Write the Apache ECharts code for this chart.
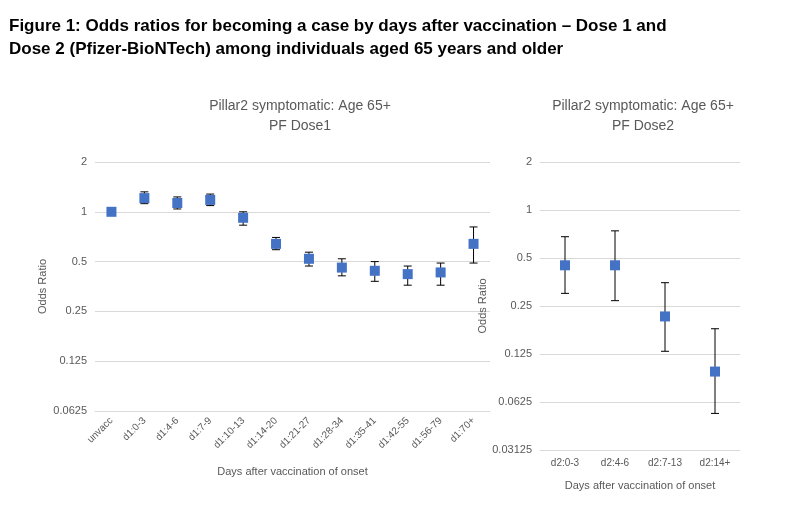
<!DOCTYPE html>
<html><head><meta charset="utf-8">
<script src="https://cdn.jsdelivr.net/npm/echarts@6/dist/echarts.min.js"></script>
<style>body{margin:0;background:#fff}#c{width:800px;height:507px}</style>
</head><body><div id="c"></div>
<script>
// dose 1 panel
var cats1 = ['unvacc','d1:0-3','d1:4-6','d1:7-9','d1:10-13','d1:14-20','d1:21-27','d1:28-34','d1:35-41','d1:42-55','d1:56-79','d1:70+'];
var or1 = [1, 1.21, 1.13, 1.18, 0.92, 0.64, 0.52, 0.46, 0.44, 0.42, 0.43, 0.64];
var lo1 = [1, 1.12, 1.04, 1.09, 0.83, 0.59, 0.47, 0.41, 0.38, 0.36, 0.36, 0.49];
var hi1 = [1, 1.32, 1.23, 1.28, 1.0, 0.70, 0.57, 0.52, 0.50, 0.47, 0.49, 0.81];
// dose 2 panel
var cats2 = ['d2:0-3','d2:4-6','d2:7-13','d2:14+'];
var or2 = [0.45, 0.45, 0.215, 0.097];
var lo2 = [0.30, 0.27, 0.13, 0.053];
var hi2 = [0.68, 0.74, 0.35, 0.18];

var grey = '#595959';
function errSeries(xi, yi, lo, hi) {
  return {
    type: 'custom', xAxisIndex: xi, yAxisIndex: yi, z: 1,
    data: lo.map(function (v, i) { return [i, v, hi[i]]; }),
    renderItem: function (params, api) {
      var a = api.coord([api.value(0), api.value(1)]);
      var b = api.coord([api.value(0), api.value(2)]);
      var w = 4, st = {stroke: '#000', lineWidth: 1};
      return {type: 'group', children: [
        {type: 'line', shape: {x1: a[0], y1: a[1], x2: b[0], y2: b[1]}, style: st},
        {type: 'line', shape: {x1: a[0]-w, y1: a[1], x2: a[0]+w, y2: a[1]}, style: st},
        {type: 'line', shape: {x1: b[0]-w, y1: b[1], x2: b[0]+w, y2: b[1]}, style: st}
      ]};
    }
  };
}
function yAx(gi, min) {
  return {
    type: 'log', logBase: 2, gridIndex: gi, min: min, max: 2,
    name: 'Odds Ratio', nameLocation: 'middle', nameGap: gi ? 40 : 47, nameRotate: 90,
    nameTextStyle: {color: grey, fontSize: 11},
    axisLine: {show: false}, axisTick: {show: false},
    axisLabel: {color: grey, fontSize: 11, formatter: function (v) { return String(+v.toPrecision(6)); }},
    splitLine: {lineStyle: {color: '#d9d9d9'}}
  };
}
function xAx(gi, cats) {
  return {
    type: 'category', gridIndex: gi, data: cats,
    name: 'Days after vaccination of onset', nameLocation: 'middle', nameGap: gi ? 30 : 55,
    nameTextStyle: {color: grey, fontSize: 11},
    axisLine: {lineStyle: {color: '#d9d9d9'}}, axisTick: {show: false},
    axisLabel: {color: grey, fontSize: 10, rotate: gi ? 0 : 45, interval: 0}
  };
}
var chart = echarts.init(document.getElementById('c'));
chart.setOption({
  animation: false,
  title: [
    {text: 'Figure 1: Odds ratios for becoming a case by days after vaccination – Dose 1 and\nDose 2 (Pfizer-BioNTech) among individuals aged 65 years and older',
     left: 4, top: 10, textStyle: {fontFamily: 'Liberation Sans', fontWeight: 'bold', fontSize: 17, lineHeight: 23, color: '#000'}},
    {text: 'Pillar2 symptomatic: Age 65+\nPF Dose1', left: 295, top: 91, textAlign: 'center',
     textStyle: {color: grey, fontWeight: 'normal', fontSize: 14, lineHeight: 20}},
    {text: 'Pillar2 symptomatic: Age 65+\nPF Dose2', left: 638, top: 91, textAlign: 'center',
     textStyle: {color: grey, fontWeight: 'normal', fontSize: 14, lineHeight: 20}}
  ],
  grid: [
    {left: 95, right: 310, top: 162, height: 249},
    {left: 540, right: 60, top: 162, height: 288}
  ],
  xAxis: [xAx(0, cats1), xAx(1, cats2)],
  yAxis: [yAx(0, 0.0625), yAx(1, 0.03125)],
  series: [
    errSeries(0, 0, lo1, hi1),
    errSeries(1, 1, lo2, hi2),
    {type: 'scatter', xAxisIndex: 0, yAxisIndex: 0, symbol: 'rect', symbolSize: 10, z: 2,
     itemStyle: {color: '#4472c4', opacity: 1}, data: or1},
    {type: 'scatter', xAxisIndex: 1, yAxisIndex: 1, symbol: 'rect', symbolSize: 10, z: 2,
     itemStyle: {color: '#4472c4', opacity: 1}, data: or2}
  ]
});
</script></body></html>
